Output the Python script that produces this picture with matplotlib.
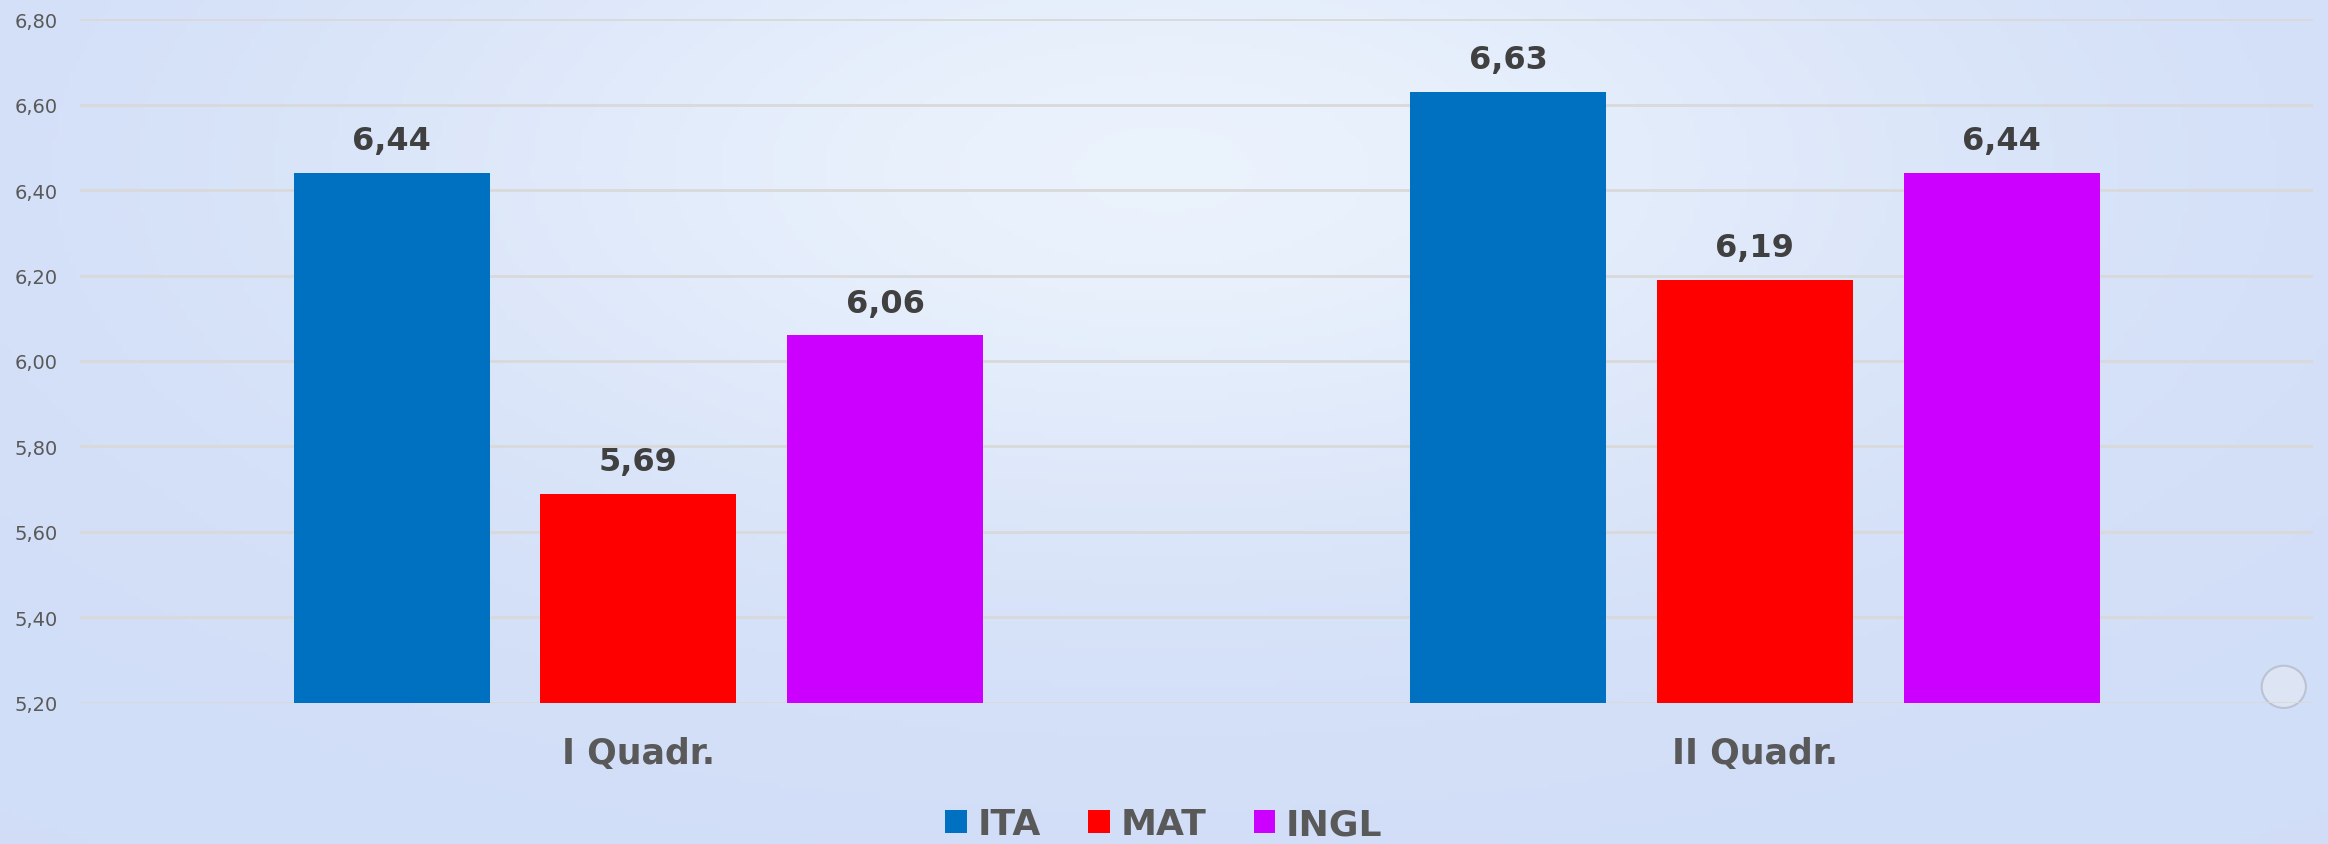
import matplotlib.pyplot as plt
import numpy as np
from matplotlib.patches import Ellipse

# data
categories = ["I Quadr.", "II Quadr."]
series = ["ITA", "MAT", "INGL"]
ita = [6.44, 6.63]
mat = [5.69, 6.19]
ingl = [6.06, 6.44]
yticks = [5.20, 5.40, 5.60, 5.80, 6.00, 6.20, 6.40, 6.60, 6.80]

colors = ["#0070C0", "#FF0000", "#CC00FF"]
plt.rcParams['font.family'] = ['DejaVu Sans']

fig = plt.figure(figsize=(23.28, 8.45), dpi=100)

# pastel background with a soft light patch near the top centre
bg = fig.add_axes([0, 0, 1, 1], zorder=-10)
gx, gy = np.meshgrid(np.linspace(-1, 1, 400), np.linspace(-1, 1, 150))
glow = np.exp(-((gx / 0.7) ** 2 + ((gy - 0.6) / 0.9) ** 2))
base = np.array([0.82, 0.87, 0.97])
light = np.array([0.92, 0.95, 0.99])
img = base[None, None, :] + (light - base)[None, None, :] * glow[..., None]
bg.imshow(img, aspect='auto', extent=[0, 1, 0, 1], origin='lower')
bg.add_patch(Ellipse((0.981, 0.186), 0.019, 0.05, facecolor='#dfe6f5',
                     edgecolor='#b8c0d0', lw=1.5, alpha=0.9))
bg.axis('off')

ax = fig.add_axes([0.0344, 0.1669, 0.9592, 0.8094])
ax.patch.set_alpha(0)

x = np.arange(len(categories))
w = 0.1755
step = 0.221
for i, (name, vals) in enumerate(zip(series, [ita, mat, ingl])):
    bars = ax.bar(x + (i - 1) * step, vals, width=w, color=colors[i], label=name, zorder=3)
    ax.bar_label(bars, labels=[f"{v:.2f}".replace('.', ',') for v in vals],
                 padding=12, fontsize=23, fontweight='bold', color='#404040')

ax.set_xlim(-0.5, 1.5)
ax.set_ylim(5.2, 6.8)
ax.set_yticks(yticks)
ax.set_yticklabels([f"{t:.2f}".replace('.', ',') for t in yticks])
ax.grid(axis='y', color='#d9d9d9', lw=2, zorder=0)
ax.set_xticks(x)
ax.set_xticklabels(categories, fontsize=25, fontweight='bold', color='#595959')
ax.tick_params(axis='x', length=0, pad=24)
ax.tick_params(axis='y', length=0, pad=16, labelsize=14, labelcolor='#595959')
for s in ax.spines.values():
    s.set_visible(False)

leg = fig.legend(loc='lower center', ncol=3, frameon=False, bbox_to_anchor=(0.5, -0.035),
                 handlelength=0.6, handleheight=0.6, handletextpad=0.3, columnspacing=1.3,
                 prop={'size': 26, 'weight': 'bold'})
for t in leg.get_texts():
    t.set_color('#595959')

fig.savefig("out.png", dpi=100)
